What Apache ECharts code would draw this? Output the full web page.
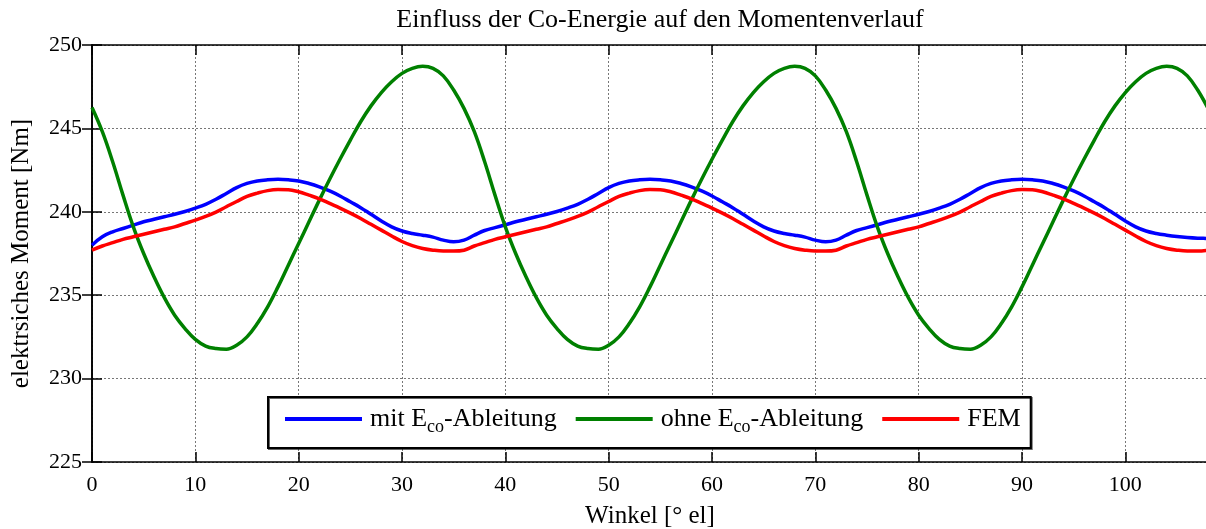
<!DOCTYPE html>
<html>
<head>
<meta charset="utf-8">
<script src="https://cdn.jsdelivr.net/npm/echarts@6/dist/echarts.min.js"></script>
<style>
  html, body { margin: 0; padding: 0; background: #fff; }
  #chart { width: 1206px; height: 529px; }
</style>
</head>
<body>
<div id="chart"></div>
<script>
// Electrical torque over rotor angle, one sample per degree (0 … 108 ° el)
const angleStart = 0;
const angleEnd = 108;

// torque computed with the co-energy derivative [Nm]
const mitEco = [
  238.0, 238.5, 238.8, 239.0, 239.2, 239.4, 239.55, 239.7, 239.85, 240.02,
  240.22, 240.45, 240.75, 241.1, 241.45, 241.7, 241.85, 241.92, 241.95, 241.92,
  241.85, 241.7, 241.5, 241.25, 240.95, 240.6, 240.25, 239.85, 239.45, 239.1,
  238.85, 238.7, 238.6, 238.48, 238.3, 238.2,
  238.3, 238.6, 238.88, 239.05, 239.22, 239.4, 239.55, 239.7, 239.85, 240.02,
  240.22, 240.45, 240.75, 241.1, 241.45, 241.7, 241.85, 241.92, 241.95, 241.92,
  241.85, 241.7, 241.5, 241.25, 240.95, 240.6, 240.25, 239.85, 239.45, 239.1,
  238.85, 238.7, 238.6, 238.48, 238.3, 238.2,
  238.3, 238.6, 238.88, 239.05, 239.22, 239.4, 239.55, 239.7, 239.85, 240.02,
  240.22, 240.45, 240.75, 241.1, 241.45, 241.7, 241.85, 241.92, 241.95, 241.92,
  241.85, 241.7, 241.5, 241.25, 240.95, 240.6, 240.25, 239.85, 239.45, 239.1,
  238.85, 238.7, 238.6, 238.52, 238.46, 238.42, 238.4, 238.37, 238.32
];

// torque computed without the co-energy derivative [Nm]
const ohneEco = [
  246.25, 244.8, 243.0, 241.0, 239.1, 237.5, 236.1, 234.85, 233.8, 233.0,
  232.35, 231.95, 231.8, 231.76, 232.0, 232.5, 233.3, 234.3, 235.5, 236.8,
  238.1, 239.4, 240.7, 241.95, 243.15, 244.3, 245.4, 246.35, 247.15, 247.8,
  248.3, 248.6, 248.72, 248.6, 248.15, 247.3,
  246.2, 244.8, 243.0, 241.0, 239.1, 237.5, 236.1, 234.85, 233.8, 233.0,
  232.35, 231.95, 231.8, 231.76, 232.0, 232.5, 233.3, 234.3, 235.5, 236.8,
  238.1, 239.4, 240.7, 241.95, 243.15, 244.3, 245.4, 246.35, 247.15, 247.8,
  248.3, 248.6, 248.72, 248.6, 248.15, 247.3,
  246.2, 244.8, 243.0, 241.0, 239.1, 237.5, 236.1, 234.85, 233.8, 233.0,
  232.35, 231.95, 231.8, 231.76, 232.0, 232.5, 233.3, 234.3, 235.5, 236.8,
  238.1, 239.4, 240.7, 241.95, 243.15, 244.3, 245.4, 246.35, 247.15, 247.8,
  248.3, 248.6, 248.72, 248.6, 248.15, 247.3, 246.2
];

// finite element reference [Nm]
const fem = [
  237.7, 237.95, 238.15, 238.35, 238.5, 238.65, 238.8, 238.95, 239.1, 239.3,
  239.5, 239.72, 239.98, 240.3, 240.62, 240.92, 241.12, 241.27, 241.33, 241.32,
  241.2, 241.0, 240.78, 240.5, 240.22, 239.92, 239.6, 239.25, 238.9, 238.55,
  238.22, 237.97, 237.8, 237.7, 237.65, 237.65,
  237.7, 237.95, 238.15, 238.35, 238.5, 238.65, 238.8, 238.95, 239.1, 239.3,
  239.5, 239.72, 239.98, 240.3, 240.62, 240.92, 241.12, 241.27, 241.33, 241.32,
  241.2, 241.0, 240.78, 240.5, 240.22, 239.92, 239.6, 239.25, 238.9, 238.55,
  238.22, 237.97, 237.8, 237.7, 237.65, 237.65,
  237.7, 237.95, 238.15, 238.35, 238.5, 238.65, 238.8, 238.95, 239.1, 239.3,
  239.5, 239.72, 239.98, 240.3, 240.62, 240.92, 241.12, 241.27, 241.33, 241.32,
  241.2, 241.0, 240.78, 240.5, 240.22, 239.92, 239.6, 239.25, 238.9, 238.55,
  238.22, 237.97, 237.8, 237.7, 237.65, 237.65, 237.7
];

const yMin = 225, yMax = 250, yStep = 5;
const xStep = 10;

const FONT = '"Liberation Serif", "DejaVu Serif", serif';

function pairs(values) {
  return values.map((v, i) => [angleStart + i, v]);
}

const subRich = {
  t: { fontFamily: FONT, fontSize: 26, color: '#000' },
  s: { fontFamily: FONT, fontSize: 18, color: '#000', padding: [16, 0, 0, 0] }
};

const chart = echarts.init(document.getElementById('chart'), null, { renderer: 'canvas' });

const frameAxisLine = { show: true, lineStyle: { color: '#000', width: 1.6 } };
const innerTicks = { show: true, inside: true, length: 10, lineStyle: { color: '#000', width: 1.5 } };
const gridDots = { show: true, lineStyle: { color: '#777', width: 1, type: [2, 2] } };

chart.setOption({
  animation: false,
  backgroundColor: '#fff',
  title: {
    text: 'Einfluss der Co-Energie auf den Momentenverlauf',
    left: 655, textAlign: 'center', top: 2,
    textStyle: { fontFamily: FONT, fontSize: 26, fontWeight: 'normal', color: '#000' }
  },
  grid: { left: 92, top: 45, right: -2, bottom: 67, containLabel: false, outerBoundsMode: 'none' },
  legend: {
    left: 268, top: 397,
    orient: 'horizontal',
    icon: 'rect',
    itemWidth: 77, itemHeight: 4,
    itemGap: 19,
    padding: [9, 10, 12, 17],
    backgroundColor: '#fff',
    borderColor: '#000', borderWidth: 2,
    shadowColor: 'rgba(0,0,0,0.6)', shadowOffsetX: 1, shadowOffsetY: 1,
    textStyle: { fontFamily: FONT, fontSize: 26, color: '#000', padding: [0, 0, 0, 3], rich: subRich },
    formatter: function (name) {
      if (name === 'FEM') return '{t|FEM}';
      const parts = name.split('_co');
      return '{t|' + parts[0] + '}{s|co}{t|' + parts[1] + '}';
    },
    data: ['mit E_co-Ableitung', 'ohne E_co-Ableitung', 'FEM']
  },
  xAxis: [{
    type: 'value', min: angleStart, max: angleEnd, interval: xStep,
    position: 'bottom',
    name: 'Winkel [° el]', nameLocation: 'middle', nameGap: 42,
    nameTextStyle: { fontFamily: FONT, fontSize: 25, color: '#000' },
    axisLine: frameAxisLine, axisTick: innerTicks,
    axisLabel: { fontFamily: FONT, fontSize: 22, color: '#000', margin: 12, showMaxLabel: false },
    splitLine: gridDots
  }, {
    type: 'value', min: angleStart, max: angleEnd, interval: xStep,
    position: 'top',
    axisLine: frameAxisLine, axisTick: innerTicks,
    axisLabel: { show: false }, splitLine: { show: false }
  }],
  yAxis: [{
    type: 'value', min: yMin, max: yMax, interval: yStep,
    position: 'left',
    name: 'elektrsiches Moment [Nm]', nameLocation: 'middle', nameGap: 58,
    nameTextStyle: { fontFamily: FONT, fontSize: 25, color: '#000' },
    axisLine: frameAxisLine, axisTick: innerTicks,
    axisLabel: { fontFamily: FONT, fontSize: 22, color: '#000', margin: 10 },
    splitLine: gridDots
  }, {
    type: 'value', min: yMin, max: yMax, interval: yStep,
    position: 'right',
    axisLine: frameAxisLine, axisTick: innerTicks,
    axisLabel: { show: false }, splitLine: { show: false }
  }],
  series: [{
    name: 'mit E_co-Ableitung', type: 'line', data: pairs(mitEco),
    showSymbol: false, symbol: 'none', smooth: 0.4,
    itemStyle: { color: '#0000ff' },
    lineStyle: { color: '#0000ff', width: 3.5 }
  }, {
    name: 'ohne E_co-Ableitung', type: 'line', data: pairs(ohneEco),
    showSymbol: false, symbol: 'none', smooth: 0.4,
    itemStyle: { color: '#008000' },
    lineStyle: { color: '#008000', width: 3.5 }
  }, {
    name: 'FEM', type: 'line', data: pairs(fem),
    showSymbol: false, symbol: 'none', smooth: 0.4,
    itemStyle: { color: '#ff0000' },
    lineStyle: { color: '#ff0000', width: 3.5 }
  }]
});
</script>
</body>
</html>
